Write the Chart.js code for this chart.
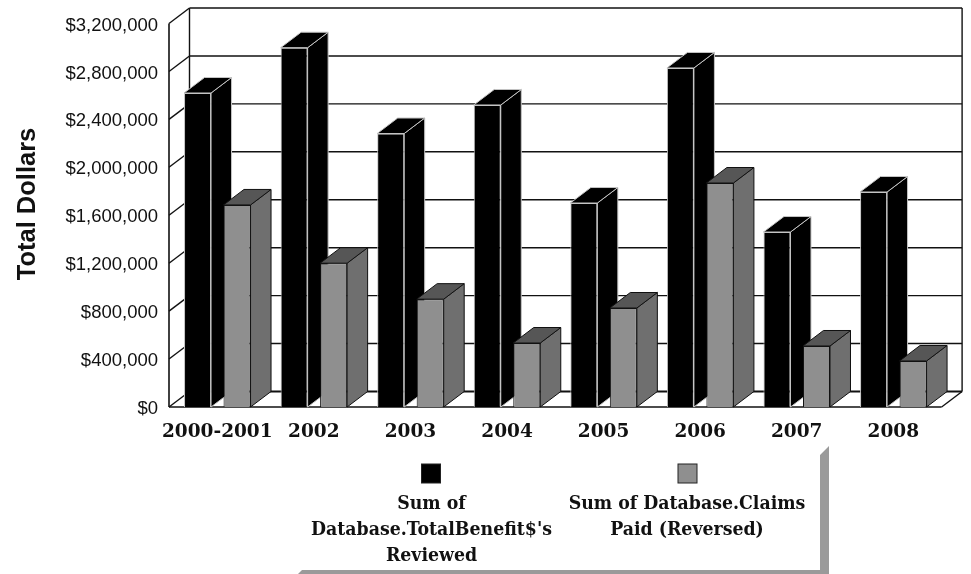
<!DOCTYPE html>
<html>
<head>
<meta charset="utf-8">
<style>html,body{margin:0;padding:0;background:#fff}canvas{display:block}</style>
<script src="https://cdn.jsdelivr.net/npm/chart.js@4"></script>
</head>
<body>
<canvas id="c" width="971" height="574"></canvas>
<script>
const years = ['2000-2001','2002','2003','2004','2005','2006','2007','2008'];
const totalBenefitReviewed = [2620000,2998000,2282000,2520000,1702000,2829000,1460000,1794000];
const claimsPaidReversed = [1686000,1200000,900000,534000,826000,1869000,509000,384000];
const legendCaptions = [
  ['Sum of','Database.TotalBenefit$\'s','Reviewed'],
  ['Sum of Database.Claims','Paid (Reversed)']
];
const axisTitle = 'Total Dollars';

// Depth of the extruded look, in pixels
const DX = 20.5, DY = -15.5;
const CAPTION_FONT = '"DejaVu Serif Condensed", "DejaVu Serif", serif';

const faces = [
  {front:'#000000', side:'#000000', top:'#000000', edge:'#c4c4c4'},
  {front:'#8f8f8f', side:'#6f6f6f', top:'#565656', edge:'#111111'}
];

function poly(ctx, pts, fill, stroke, w){
  ctx.beginPath();
  pts.forEach((p,i)=> i?ctx.lineTo(p[0],p[1]):ctx.moveTo(p[0],p[1]));
  ctx.closePath();
  if(fill){ctx.fillStyle=fill;ctx.fill();}
  if(stroke){ctx.strokeStyle=stroke;ctx.lineWidth=w||1;ctx.stroke();}
}
function seg(ctx,x1,y1,x2,y2,w,col){
  ctx.beginPath();ctx.moveTo(x1,y1);ctx.lineTo(x2,y2);
  ctx.lineWidth=w;ctx.strokeStyle=col||'#111';ctx.stroke();
}

// Walls, floor and the side and top faces of the bars; front faces are the bar elements
const wallsPlugin = {
  id:'walls',
  beforeDatasetsDraw(chart){
    const {ctx,chartArea:a,scales:{y}} = chart;
    ctx.save();
    y.ticks.forEach(t=>{
      const py = y.getPixelForValue(t.value);
      seg(ctx,a.left,py,a.left+DX,py+DY,1.4);
      seg(ctx,a.left+DX,py+DY,a.right+DX,py+DY,t.value===0?2:1.4);
    });
    seg(ctx,a.left,a.top,a.left,a.bottom,1.6);
    seg(ctx,a.left+DX,a.top+DY,a.left+DX,a.bottom+DY,1.4);
    seg(ctx,a.right+DX,a.top+DY,a.right+DX,a.bottom+DY,1.4);
    seg(ctx,a.left,a.bottom,a.right,a.bottom,1.6);
    seg(ctx,a.right,a.bottom,a.right+DX,a.bottom+DY,1.4);
    [0,1].forEach(k=>{
      const f = faces[k];
      chart.getDatasetMeta(k).data.forEach(el=>{
        const l=el.x-el.width/2, r=el.x+el.width/2, t=el.y, b=el.base;
        poly(ctx,[[r,t],[r+DX,t+DY],[r+DX,b+DY],[r,b]],f.side,f.edge,1);
        poly(ctx,[[l,t],[l+DX,t+DY],[r+DX,t+DY],[r,t]],f.top,f.edge,1);
      });
    });
    ctx.restore();
  }
};

// Axis title, legend panel and its drop shadow
const legendPlugin = {
  id:'panel',
  afterDraw(chart){
    const {ctx} = chart;
    ctx.save();
    ctx.save();
    ctx.translate(28,204);
    ctx.rotate(-Math.PI/2);
    ctx.fillStyle='#111';ctx.textAlign='center';ctx.textBaseline='middle';
    ctx.font='bold 25.5px "Liberation Sans"';
    ctx.fillText(axisTitle,0,0);
    ctx.restore();
    poly(ctx,[[829,446],[829,574],[298,574],[302,570],[820,570],[820,455]],'#9a9a9a');
    const cols=[431.5,687], swatchX=[421.5,678];
    faces.forEach((f,i)=>{
      ctx.fillStyle=f.front;ctx.fillRect(swatchX[i],464,19,19);
      ctx.strokeStyle='#222';ctx.lineWidth=1;ctx.strokeRect(swatchX[i],464,19,19);
    });
    ctx.fillStyle='#111';ctx.textAlign='center';ctx.textBaseline='middle';
    ctx.font='bold 19.3px '+CAPTION_FONT;
    legendCaptions.forEach((lines,i)=>lines.forEach((s,j)=>ctx.fillText(s,cols[i],504+j*26)));
    ctx.restore();
  }
};

new Chart(document.getElementById('c'),{
  type:'bar',
  data:{labels:years,datasets:[
    {label:'Sum of Database.TotalBenefit$\'s Reviewed',data:totalBenefitReviewed,
     backgroundColor:faces[0].front,borderColor:faces[0].edge,borderWidth:1,
     categoryPercentage:0.818,barPercentage:0.684},
    {label:'Sum of Database.Claims Paid (Reversed)',data:claimsPaidReversed,
     backgroundColor:faces[1].front,borderColor:faces[1].edge,borderWidth:1,
     categoryPercentage:0.818,barPercentage:0.684}
  ]},
  options:{
    responsive:false,animation:false,
    layout:{padding:{left:0,right:29.4,top:23.5,bottom:0}},
    plugins:{legend:{display:false},tooltip:{enabled:false},title:{display:false}},
    scales:{
      x:{
        grid:{display:false},border:{display:false},
        ticks:{color:'#111',padding:6,maxRotation:0,autoSkip:false,
               font:{family:'"DejaVu Serif"',weight:'bold',size:18.5}},
        afterFit(s){s.height=167;}
      },
      y:{
        min:0,max:3200000,
        grid:{display:false,drawTicks:false},border:{display:false},
        ticks:{stepSize:400000,color:'#111',padding:11,labelOffset:2,
               font:{family:'"Liberation Sans"',size:18.5},
               callback:v=>'$'+Number(v).toLocaleString('en-US')},
        afterFit(s){s.width=169;}
      }
    }
  },
  plugins:[wallsPlugin,legendPlugin]
});
</script>
</body>
</html>
